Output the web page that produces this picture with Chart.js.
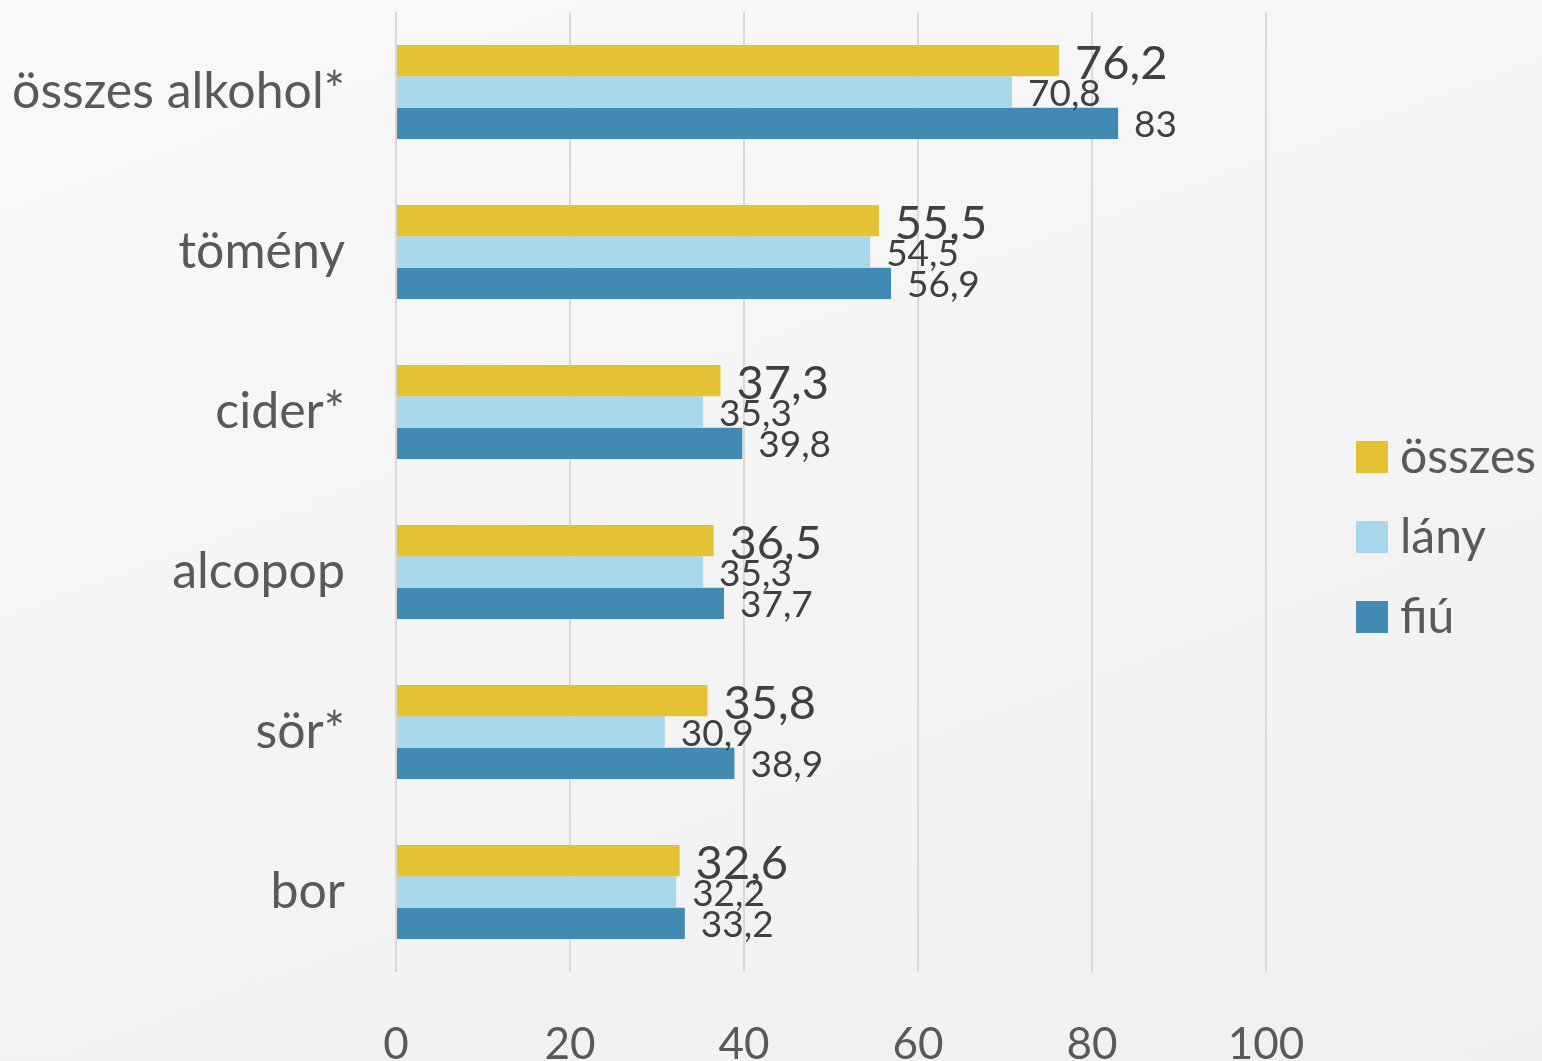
<!DOCTYPE html>
<html lang="hu">
<head>
<meta charset="utf-8">
<title>Alkoholfogyasztás</title>
<script src="https://cdn.jsdelivr.net/npm/chart.js@4.4.1/dist/chart.umd.min.js"></script>
<style>
  html, body { margin: 0; padding: 0; }
  body {
    width: 1542px; height: 1061px; overflow: hidden;
    background: linear-gradient(160deg, #f9f9f9 0%, #f4f4f4 50%, #f0f0f0 100%);
  }
  #wrap { position: relative; width: 1542px; height: 1061px; }
</style>
</head>
<body>
<div id="wrap"><canvas id="chart" width="1542" height="1061"></canvas></div>
<script>
const kategoriak = ["összes alkohol*", "tömény", "cider*", "alcopop", "sör*", "bor"];
const osszes = [76.2, 55.5, 37.3, 36.5, 35.8, 32.6];
const lany = [70.8, 54.5, 35.3, 35.3, 30.9, 32.2];
const fiu = [83, 56.9, 39.8, 37.7, 38.9, 33.2];
const xTicks = [0, 20, 40, 60, 80, 100];

const szinek = { osszes: "#e4c234", lany: "#a9d7ec", fiu: "#418ab4" };
const szovegSzin = "#595959";
const FONT = "Lato, 'Liberation Sans', sans-serif";

Chart.defaults.font.family = FONT;
Chart.defaults.color = szovegSzin;

const formaz = v => String(v).replace(".", ",");

// értékcímkék a sávok végén
const ertekCimkek = {
  id: "ertekCimkek",
  afterDatasetsDraw(chart) {
    const ctx = chart.ctx;
    ctx.save();
    ctx.fillStyle = "#404040";
    ctx.textAlign = "left";
    ctx.textBaseline = "middle";
    chart.data.datasets.forEach((ds, i) => {
      const meta = chart.getDatasetMeta(i);
      const meret = i === 0 ? 47 : 37;
      ctx.font = meret + "px " + FONT;
      meta.data.forEach((bar, j) => {
        ctx.fillText(formaz(ds.data[j]), bar.x + 16, bar.y + (i === 0 ? 3 : 2));
      });
    });
    ctx.restore();
  }
};

// jelmagyarázat jobbra
const jelmagyarazat = {
  id: "jelmagyarazat",
  afterDraw(chart) {
    const ctx = chart.ctx;
    const area = chart.chartArea;
    const x = area.right + 90;
    const kozep = (area.top + area.bottom) / 2 + 45;
    ctx.save();
    ctx.font = "48px " + FONT;
    ctx.textBaseline = "middle";
    ctx.textAlign = "left";
    chart.data.datasets.forEach((ds, i) => {
      const y = kozep + (i - 1) * 80;
      ctx.fillStyle = ds.backgroundColor;
      ctx.fillRect(x, y - 16, 32, 32);
      ctx.fillStyle = szovegSzin;
      ctx.fillText(ds.label, x + 44, y + 1);
    });
    ctx.restore();
  }
};

new Chart(document.getElementById("chart").getContext("2d"), {
  type: "bar",
  data: {
    labels: kategoriak,
    datasets: [
      { label: "összes", data: osszes, backgroundColor: szinek.osszes },
      { label: "lány", data: lany, backgroundColor: szinek.lany },
      { label: "fiú", data: fiu, backgroundColor: szinek.fiu }
    ]
  },
  options: {
    indexAxis: "y",
    responsive: false,
    animation: false,
    layout: { padding: { top: 12, right: 276, bottom: 0, left: 0 } },
    datasets: {
      bar: { categoryPercentage: 0.5875, barPercentage: 1.0, borderWidth: 0 }
    },
    plugins: {
      legend: { display: false },
      tooltip: { enabled: false }
    },
    scales: {
      x: {
        min: 0,
        max: 100,
        afterBuildTicks: scale => { scale.ticks = xTicks.map(v => ({ value: v })); },
        afterFit: scale => {
          scale.height = 89;
          scale.paddingLeft = 0;
          scale.paddingRight = 0;
        },
        grid: { color: "#d9d9d9", lineWidth: 2, drawTicks: false },
        border: { display: false },
        ticks: { padding: 46, font: { size: 44 }, color: szovegSzin }
      },
      y: {
        afterFit: scale => {
          scale.width = 396;
          scale.paddingTop = 0;
          scale.paddingBottom = 0;
        },
        grid: { display: false },
        border: { display: false },
        ticks: { padding: 43, font: { size: 50 }, color: szovegSzin }
      }
    }
  },
  plugins: [ertekCimkek, jelmagyarazat]
});
</script>
</body>
</html>
